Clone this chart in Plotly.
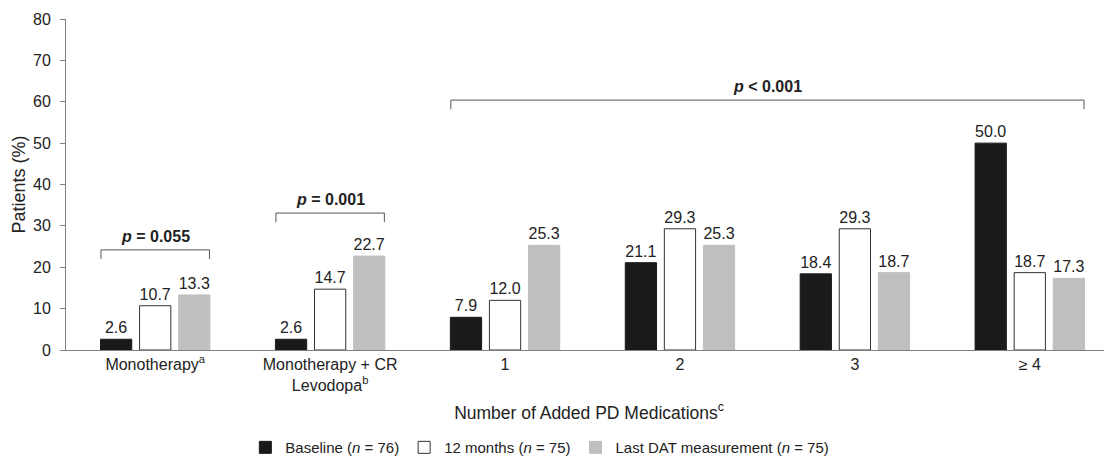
import plotly.graph_objects as go

categories = ["Monotherapy<sup>a</sup>", "Monotherapy + CR<br>Levodopa<sup>b</sup>", "1", "2", "3", "≥ 4"]
baseline = [2.6, 2.6, 7.9, 21.1, 18.4, 50.0]
months12 = [10.7, 14.7, 12.0, 29.3, 29.3, 18.7]
last_dat = [13.3, 22.7, 25.3, 25.3, 18.7, 17.3]
series_names = ["Baseline (<i>n</i> = 76)", "12 months (<i>n</i> = 75)", "Last DAT measurement (<i>n</i> = 75)"]
yticks = [0, 10, 20, 30, 40, 50, 60, 70, 80]

# p-value brackets: (first group, last group, bracket y, label)
brackets = [(0, 0, 24.2, "<b><i>p</i> = 0.055</b>"),
            (1, 1, 33.1, "<b><i>p</i> = 0.001</b>"),
            (2, 5, 60.4, "<b><i>p</i> < 0.001</b>")]

xs = list(range(len(categories)))
FAM = "Liberation Sans, Arial, sans-serif"
TXT = "#222222"

fig = go.Figure()
fills = ["#1a1a1a", "#ffffff", "#bfbfbf"]
lines = ["#1a1a1a", "#333333", "#bfbfbf"]
for name, vals, fc, lc in zip(series_names, [baseline, months12, last_dat], fills, lines):
    fig.add_trace(go.Bar(
        x=xs, y=vals, name=name,
        marker=dict(color=fc, line=dict(color=lc, width=1)),
        text=vals, texttemplate="%{y:.1f}", textposition="outside",
        textfont=dict(family=FAM, size=16, color=TXT),
        cliponaxis=False,
    ))

half = 0.31
tick = 2.2
for g0, g1, yb, label in brackets:
    x0 = g0 - half
    x1 = g1 + half
    fig.add_shape(type="path",
                  path=f"M {x0},{yb - tick} L {x0},{yb} L {x1},{yb} L {x1},{yb - tick}",
                  xref="x", yref="y", line=dict(color="#555555", width=1))
    fig.add_annotation(x=(x0 + x1) / 2, y=yb, xref="x", yref="y", text=label,
                       showarrow=False, yanchor="bottom", yshift=3,
                       font=dict(family=FAM, size=16, color=TXT))

fig.update_layout(
    width=1104, height=457,
    margin=dict(l=58, r=0, t=11, b=115, autoexpand=False),
    paper_bgcolor="white", plot_bgcolor="white",
    font=dict(family=FAM, size=16, color=TXT),
    barmode="group", bargap=0.33, bargroupgap=0.2,
    showlegend=True,
    legend=dict(orientation="h", x=0.453, xanchor="center", y=-0.245, yanchor="top",
                font=dict(family=FAM, size=15, color=TXT),
                itemwidth=30, traceorder="normal"),
    xaxis=dict(tickmode="array", tickvals=xs, ticktext=categories, range=[-0.51, 5.47],
               showline=True, linecolor="#808080", linewidth=1, ticks="",
               showgrid=False, zeroline=False, automargin=False,
               tickfont=dict(family=FAM, size=16, color=TXT),
               title=dict(text="Number of Added PD Medications<sup>c</sup>", standoff=13,
                          font=dict(family=FAM, size=17.5, color=TXT))),
    yaxis=dict(range=[0, 80], tickvals=yticks, showline=True, linecolor="#808080", linewidth=1,
               ticks="outside", ticklen=5, tickcolor="#808080", showgrid=False, zeroline=False,
               automargin=False, ticklabelstandoff=6,
               tickfont=dict(family=FAM, size=16, color=TXT),
               title=dict(text="Patients (%)", standoff=2,
                          font=dict(family=FAM, size=18, color=TXT))),
)

fig.write_html("out.html")
